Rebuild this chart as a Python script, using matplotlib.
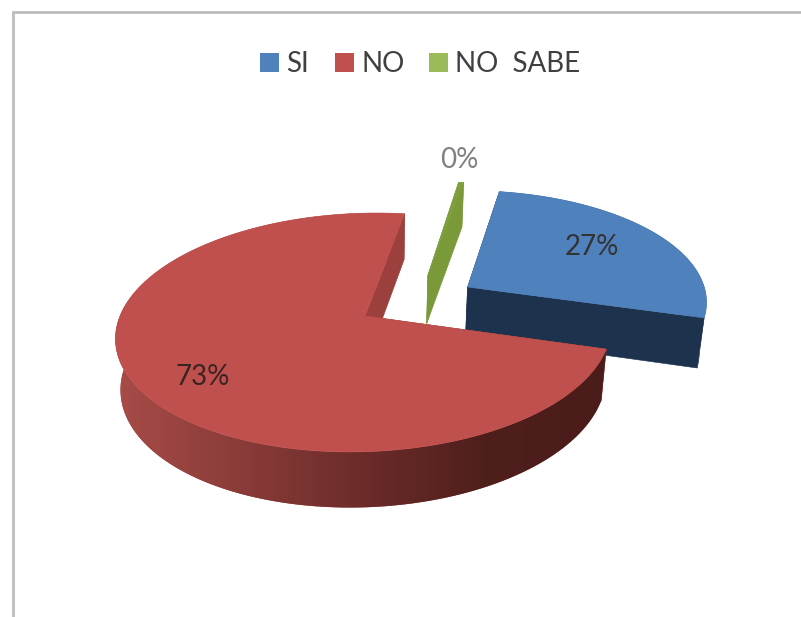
#!/usr/bin/env python3
"""Exploded 3D-look pie: SI / NO / NO SABE."""
import numpy as np
import matplotlib; matplotlib.use("Agg")
import matplotlib.pyplot as plt
from matplotlib.colors import LinearSegmentedColormap
from matplotlib.patches import Polygon, Rectangle

plt.rcParams["font.family"] = ["Lato", "DejaVu Sans"]

labels = ["SI", "NO", "NO  SABE"]
values = [27, 73, 0.4]
top_colors = ["#4f81bd", "#c0504d", "#7f9f3d"]
wall_colors = ["#1d324d", "#9c403d", "#7a9a3a"]
legend_colors = ["#4f81bd", "#c0504d", "#9bbb59"]
legend_x = [260, 335, 429]
label_pos = [(592, 247), (203, 377), (459, 160)]
label_colors = ["#333333", "#3a2322", "#808080"]

# pie disc is projected with a simple perspective divide plus a slight shear
CX, CY = 365, 316
R, H, K, SHEAR = 245.0, 117.2, 0.138, 13.0
R_LOW, H_LOW, DROP = 240.0, 122.0, 50
START = 81.0
# per-slice shift of the wedge tip, in disc units
OFFSETS = [(0.42, 0.256), (0.0, 0.0), (0.25, 0.363)]


def project(u, v, low=False):
    w = 1 + K * v
    if low:
        return CX + (R_LOW * u + SHEAR * v) / w, CY + DROP - H_LOW * v / w
    return CX + (R * u + SHEAR * v) / w, CY - H * v / w


def pts(u, v, low=False):
    x, y = project(np.asarray(u, float), np.asarray(v, float), low)
    return np.column_stack([x, y])


fig = plt.figure(figsize=(8.01, 6.17), dpi=100)
ax = fig.add_axes([0, 0, 1, 1])
ax.axis("off")

# chart frame, open on the right and bottom
ax.plot([13, 13, 801], [617, 12, 12], color="#bdbdbd", lw=2.0, solid_joinstyle="miter")

shares = np.array(values) / sum(values)
spans = shares * 360
ends = START - np.cumsum(spans)
starts = ends + spans

rim_cmap = LinearSegmentedColormap.from_list(
    "rim", [(0, "#a84c48"), (0.25, "#8a3c39"), (0.5, "#6c2c2a"), (0.75, "#4f1f1c"), (1, "#4a1c1a")])


def draw_slice(i):
    a = np.radians(np.linspace(starts[i], ends[i], 240))
    ou, ov = OFFSETS[i]
    u, v = ou + np.cos(a), ov + np.sin(a)
    top_arc, low_arc = pts(u, v), pts(u, v, True)
    tip, tip_low = pts([ou], [ov]), pts([ou], [ov], True)
    for j in (0, -1):
        wall = np.vstack([tip, top_arc[j], low_arc[j], tip_low])
        ax.add_patch(Polygon(wall, fc=wall_colors[i], ec=wall_colors[i], lw=0.4, zorder=2 + i * 3))
    rim = np.vstack([top_arc, low_arc[::-1]])
    rim_patch = Polygon(rim, fc=wall_colors[i], ec="none", zorder=3 + i * 3)
    ax.add_patch(rim_patch)
    if labels[i] == "NO":
        # red rim darkens from left to right
        grad = np.linspace(0, 1, 256).reshape(1, -1)
        im = ax.imshow(grad, cmap=rim_cmap, extent=[115, 607, 520, 300], aspect="auto", zorder=3 + i * 3)
        im.set_clip_path(rim_patch)
    ax.add_patch(Polygon(np.vstack([tip, top_arc]), fc=top_colors[i], ec=top_colors[i], lw=0.4, zorder=4 + i * 3))


# back to front: green, blue, then the big red slice
for i in (2, 0, 1):
    draw_slice(i)

ax.set_xlim(0, 801)
ax.set_ylim(617, 0)

total = sum(values)
for val, (x, y), c in zip(values, label_pos, label_colors):
    ax.text(x, y, f"{val / total * 100:.0f}%", color=c, fontsize=20, ha="center", va="center", zorder=20)

for name, x, c in zip(labels, legend_x, legend_colors):
    ax.add_patch(Rectangle((x, 53), 19, 19, fc=c, ec="none", zorder=20))
    ax.text(x + 26, 64, name, color="#404040", fontsize=20, ha="left", va="center", zorder=20)

fig.savefig("out.png", dpi=100, facecolor="white")
